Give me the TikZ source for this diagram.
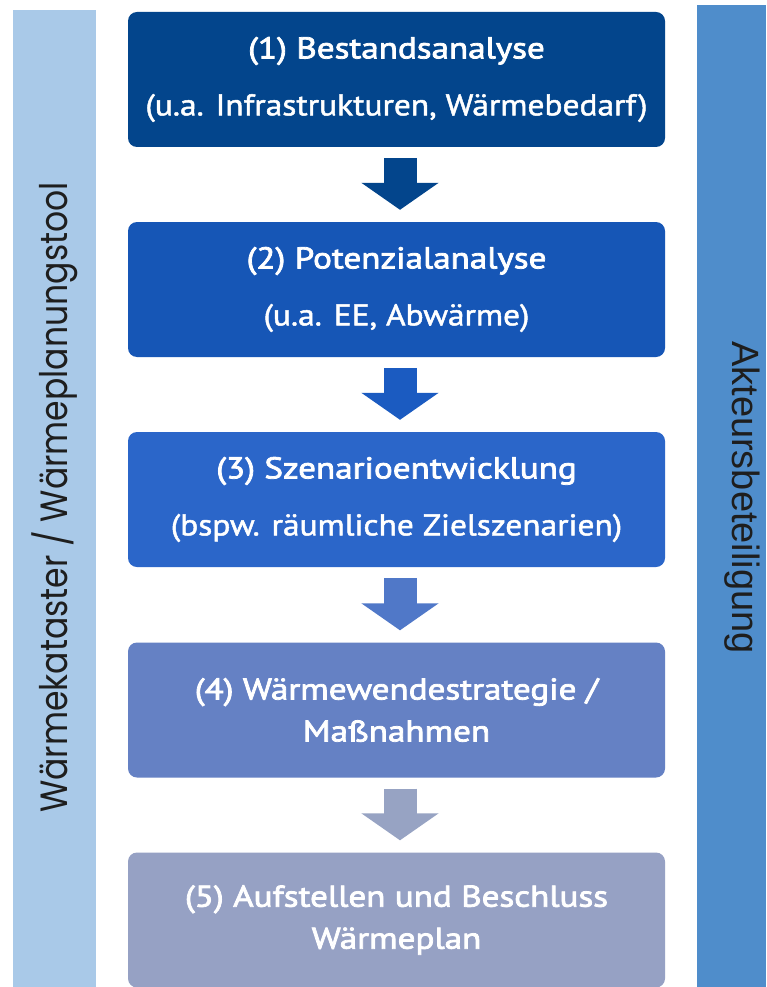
\documentclass[tikz,border=0pt]{standalone}
\usepackage{fontspec}
\usetikzlibrary{arrows.meta}
\newfontfamily\boxfontT{PT Sans}[FakeBold=2.6,FakeStretch=1.17]
\newfontfamily\boxfontS{PT Sans}[FakeBold=1.6,FakeStretch=1.115]
\newfontfamily\leftfont{Poppins}[FakeStretch=0.87]
\newfontfamily\rightfont{Liberation Sans}
\definecolor{leftbar}{HTML}{A9C9E8}
\definecolor{rightbar}{HTML}{4F8DCB}
\definecolor{cA}{HTML}{03458C}
\definecolor{cB}{HTML}{1656B6}
\definecolor{cC}{HTML}{2B66C9}
\definecolor{cD}{HTML}{6581C4}
\definecolor{cE}{HTML}{96A1C4}
\definecolor{aA}{HTML}{03458C}
\definecolor{aB}{HTML}{1B5BC1}
\definecolor{aC}{HTML}{5078C8}
\definecolor{aD}{HTML}{97A3C3}
\definecolor{sidetext}{HTML}{1E1E1E}
\newcommand{\ttl}[1]{{\boxfontT #1}}
\newcommand{\sub}[1]{{\boxfontS #1}}
\tikzset{
  stepbox/.style={rounded corners=9pt, minimum width=537pt, minimum height=135pt,
    inner sep=0pt, text=white, align=center,
    font=\fontsize{30}{42}\selectfont},
  flowarrow/.style={line width=33pt,
    -{Triangle[length=27pt,width=76pt]}},
  sidebar/.style={inner sep=0pt, outer sep=0pt}
}
\begin{document}
\begin{tikzpicture}[x=1pt,y=-1pt]
\useasboundingbox (0,0) rectangle (766,987);
\fill[white] (0,0) rectangle (766,987);
% side bars
\node[sidebar, fill=leftbar, minimum width=83pt, minimum height=977pt] (lb) at (54.5,498.5) {};
\node[sidebar, fill=rightbar, minimum width=69pt, minimum height=982pt] (rb) at (731.5,496) {};
\node[rotate=90, anchor=base, inner sep=0pt, text=sidetext, font=\leftfont\fontsize{38}{44}\selectfont] (lt) at (67,497.5) {Wärmekataster / Wärmeplanungstool};
\node[rotate=-90, anchor=base, inner sep=0pt, text=sidetext, font=\rightfont\fontsize{38}{44}\selectfont] (rt) at (732,497.5) {Akteursbeteiligung};
% boxes
\node[stepbox, fill=cA] (b1) at (396.5,79.5) {\ttl{(1) Bestandsanalyse}\\[15pt]\sub{(u.a. Infrastrukturen, Wärmebedarf)}};
\node[stepbox, fill=cB] (b2) at (396.5,289.5) {\ttl{(2) Potenzialanalyse}\\[15pt]\sub{(u.a. EE, Abwärme)}};
\node[stepbox, fill=cC] (b3) at (396.5,499.5) {\ttl{(3) Szenarioentwicklung}\\[15pt]\sub{(bspw. räumliche Zielszenarien)}};
\node[stepbox, fill=cD] (b4) at (396.5,710) {\ttl{(4) Wärmewendestrategie /}\\\ttl{Maßnahmen}};
\node[stepbox, fill=cE] (b5) at (396.5,920) {\ttl{(5) Aufstellen und Beschluss}\\\ttl{Wärmeplan}};
% arrows
\draw[flowarrow, aA] ([xshift=3.5pt,yshift=-11pt]b1.south) -- ([xshift=3.5pt,yshift=12pt]b2.north);
\draw[flowarrow, aB] ([xshift=3.5pt,yshift=-11pt]b2.south) -- ([xshift=3.5pt,yshift=12pt]b3.north);
\draw[flowarrow, aC] ([xshift=3.5pt,yshift=-11pt]b3.south) -- ([xshift=3.5pt,yshift=12pt]b4.north);
\draw[flowarrow, aD] ([xshift=3.5pt,yshift=-11pt]b4.south) -- ([xshift=3.5pt,yshift=12pt]b5.north);
\end{tikzpicture}
\end{document}
